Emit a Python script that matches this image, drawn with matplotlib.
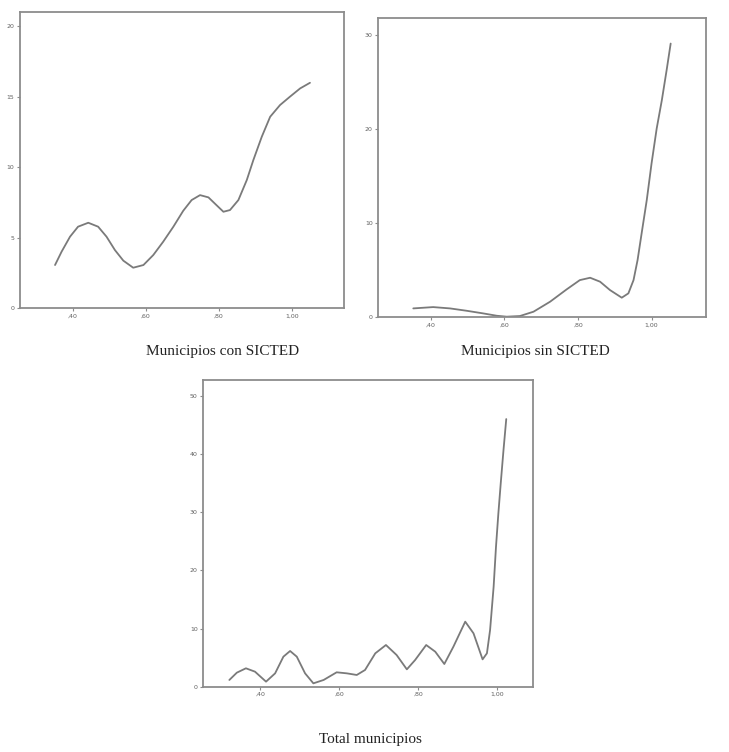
import matplotlib
matplotlib.use("Agg")
from matplotlib import pyplot as plt

# Municipios con SICTED
con_x = [0.352, 0.370, 0.393, 0.415, 0.443, 0.470, 0.493, 0.516, 0.539, 0.566,
         0.594, 0.621, 0.648, 0.676, 0.703, 0.726, 0.749, 0.772, 0.794, 0.813,
         0.831, 0.854, 0.877, 0.895, 0.918, 0.941, 0.968, 0.995, 1.023, 1.050]
con_y = [3.05, 4.00, 5.06, 5.77, 6.05, 5.77, 5.06, 4.11, 3.36, 2.86,
         3.05, 3.76, 4.70, 5.77, 6.90, 7.66, 8.01, 7.85, 7.30, 6.83,
         6.95, 7.66, 9.08, 10.50, 12.15, 13.57, 14.40, 14.99, 15.58, 15.98]

# Municipios sin SICTED
sin_x = [0.352, 0.406, 0.452, 0.497, 0.542, 0.579, 0.606, 0.642, 0.679, 0.724,
         0.769, 0.805, 0.833, 0.860, 0.887, 0.919, 0.937, 0.951, 0.962, 0.973,
         0.987, 1.000, 1.014, 1.028, 1.041, 1.052]
sin_y = [0.95, 1.09, 0.95, 0.70, 0.42, 0.17, 0.07, 0.14, 0.60, 1.66,
         2.97, 3.96, 4.21, 3.79, 2.90, 2.09, 2.55, 3.96, 6.09, 8.92,
         12.47, 16.36, 20.08, 23.09, 26.28, 29.11]

# Total municipios
tot_x = [0.322, 0.341, 0.364, 0.387, 0.415, 0.438, 0.459, 0.476, 0.493, 0.514,
         0.535, 0.561, 0.594, 0.620, 0.645, 0.666, 0.692, 0.719, 0.746, 0.772,
         0.793, 0.821, 0.844, 0.867, 0.890, 0.920, 0.941, 0.964, 0.975, 0.983,
         0.992, 0.998, 1.004, 1.010, 1.017, 1.024]
tot_y = [1.15, 2.41, 3.16, 2.58, 0.86, 2.29, 5.16, 6.14, 5.16, 2.29,
         0.57, 1.15, 2.47, 2.29, 2.01, 2.87, 5.74, 7.17, 5.45, 2.98,
         4.59, 7.17, 6.02, 3.90, 6.88, 11.19, 9.18, 4.70, 5.74, 9.75,
         17.21, 24.10, 29.83, 35.00, 40.73, 46.07]

x_ticks = [0.40, 0.60, 0.80, 1.00]
x_labels = [",40", ",60", ",80", "1,00"]

line_col = "#7a7a7a"
frame_col = "#8c8c8c"
tick_col = "#606060"


def panel(rect, xs, ys, xlim, ylim, yticks, caption, cap_xy):
    ax = fig.add_axes(rect)
    ax.plot(xs, ys, color=line_col, lw=1.3, solid_joinstyle="round",
            solid_capstyle="round")
    ax.set_xlim(*xlim)
    ax.set_ylim(*ylim)
    ax.set_xticks(x_ticks)
    ax.set_xticklabels(x_labels)
    ax.set_yticks(yticks)
    ax.set_yticklabels([str(v) for v in yticks])
    for s in ax.spines.values():
        s.set_color(frame_col)
        s.set_linewidth(1.3)
    ax.tick_params(axis="both", labelsize=4.5, labelcolor=tick_col,
                   color=frame_col, length=2.5, width=0.8, pad=1.5)
    fig.text(cap_xy[0], cap_xy[1], caption, ha="center", va="center",
             family="Liberation Serif", fontsize=11, color="#222222")
    return ax


fig = plt.figure(figsize=(7.29, 7.52), dpi=100)

panel([0.0274, 0.5904, 0.4444, 0.3936], con_x, con_y, (0.256, 1.143), (0, 21.0),
      [0, 5, 10, 15, 20], "Municipios con SICTED", (0.305, 0.533))
panel([0.519, 0.578, 0.4494, 0.3977], sin_x, sin_y, (0.257, 1.148), (0, 31.8),
      [0, 10, 20, 30], "Municipios sin SICTED", (0.735, 0.533))
panel([0.2789, 0.0869, 0.4518, 0.4078], tot_x, tot_y, (0.256, 1.091), (0, 52.8),
      [0, 10, 20, 30, 40, 50], "Total municipios", (0.5075, 0.016))

fig.savefig("out.png", dpi=100)
